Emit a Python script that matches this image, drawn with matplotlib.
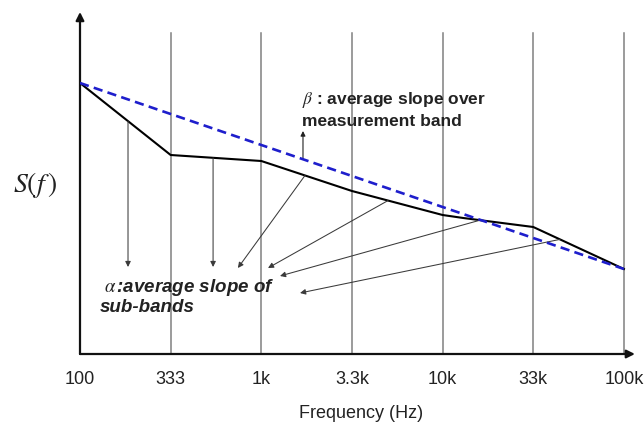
import numpy as np
import matplotlib
matplotlib.use('Agg')
import matplotlib.pyplot as plt

plt.rcParams['font.family'] = ['Liberation Sans', 'DejaVu Sans']
plt.rcParams['mathtext.fontset'] = 'stix'

# band edges (Hz) and their labels
band_edges = [100, 10**2.5, 1000, 10**3.5, 10000, 10**4.5, 100000]
band_labels = ['100', '333', '1k', '3.3k', '10k', '33k', '100k']

# measured spectrum S(f), arbitrary units
curve_f = [100, 10**2.5, 1000, 10**3.5, 10000, 13000, 10**4.5, 100000]
curve_s = [27.1, 19.9, 19.3, 16.3, 13.9, 13.6, 12.7, 8.5]

# beta: straight fit over the whole band
beta_f = [100, 100000]
beta_s = [27.1, 8.5]

# alpha arrows: start freq on the curve -> end point near the label
alpha_start_f = [184, 542, 1742, 5000, 16100, 44400]
alpha_end_f = [184, 542, 743, 1089, 1268, 1635]
alpha_end_s = [8.7, 8.7, 8.6, 8.6, 7.8, 6.1]

beta_arrow_f = 1698
beta_arrow_top = 22.3

grid_top = 32.1
y_top = 34.2
x_right = 115000

W, H = 644, 426
fig = plt.figure(figsize=(W / 100, H / 100), dpi=100)
ax = fig.add_axes([80 / W, (H - 354) / H, 560 / W, 349 / H])
ax.set_xscale('log')
ax.set_xlim(100, 100 * 10**(560 / 181.3))
ax.set_ylim(0, 34.9)
for s in ax.spines.values():
    s.set_visible(False)
ax.set_yticks([])
ax.minorticks_off()
ax.set_xticks(band_edges)
ax.set_xticklabels(band_labels, fontsize=13, color='#222222')
ax.tick_params(axis='x', length=0, pad=12)

# vertical band lines
for f in band_edges[1:]:
    ax.plot([f, f], [0, grid_top], color='#808080', lw=1.1, zorder=1)

# axes with arrow heads
ax.annotate('', xy=(100, y_top), xytext=(100, 0),
            arrowprops=dict(arrowstyle='-|>', color='#111111', lw=1.6,
                            mutation_scale=12, shrinkA=0, shrinkB=0))
ax.annotate('', xy=(x_right, 0), xytext=(100, 0),
            arrowprops=dict(arrowstyle='-|>', color='#111111', lw=1.6,
                            mutation_scale=12, shrinkA=0, shrinkB=0))

ax.plot(curve_f, curve_s, color='black', lw=1.5, zorder=3)
ax.plot(beta_f, beta_s, color='#1e1ecc', lw=1.9, dashes=(3.5, 2), zorder=4)

# alpha arrows from curve
lc = np.log10(curve_f)
for fs, fe, se in zip(alpha_start_f, alpha_end_f, alpha_end_s):
    ss = np.interp(np.log10(fs), lc, curve_s)
    ax.annotate('', xy=(fe, se), xytext=(fs, ss),
                arrowprops=dict(arrowstyle='-|>', color='#3a3a3a', lw=0.75,
                                mutation_scale=8, shrinkA=0, shrinkB=0))

# beta arrow
bs = np.interp(np.log10(beta_arrow_f), np.log10(beta_f), beta_s)
ax.annotate('', xy=(beta_arrow_f, beta_arrow_top), xytext=(beta_arrow_f, bs),
            arrowprops=dict(arrowstyle='-|>', color='#222222', lw=0.8,
                            mutation_scale=7, shrinkA=0, shrinkB=0))

ax.text(1670, 25.4, r'$\beta$ : average slope over', fontsize=12.5,
        fontweight='bold', va='center', ha='left', color='#222222')
ax.text(1670, 23.2, 'measurement band', fontsize=12.5,
        fontweight='bold', va='center', ha='left', color='#222222')

ax.text(135, 6.7, r'$\alpha\,$:average slope of', fontsize=13.5,
        fontweight='bold', style='italic', va='center', ha='left', color='#222222')
ax.text(129, 4.6, 'sub-bands', fontsize=13.5,
        fontweight='bold', style='italic', va='center', ha='left', color='#222222')

fig.text(13 / W, (H - 185) / H, r'$S(f\,)$', fontsize=20, va='center', ha='left',
         color='#222222')
fig.text(361 / W, (H - 413) / H, 'Frequency (Hz)', fontsize=13,
         va='center', ha='center', color='#222222')

fig.savefig('out.png', dpi=100)
